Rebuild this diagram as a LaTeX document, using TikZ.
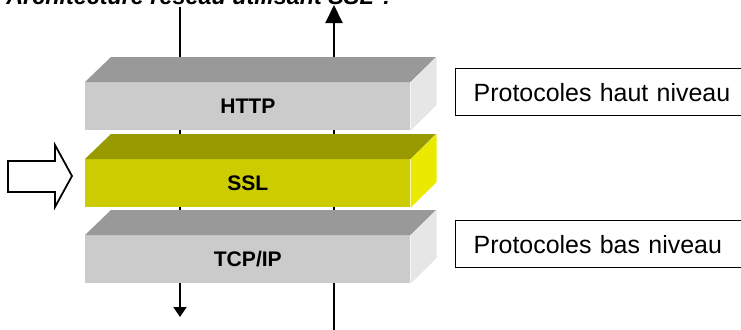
\documentclass[tikz,border=0pt]{standalone}
\usepackage{fontspec}
\setmainfont{Liberation Sans}
\usetikzlibrary{arrows.meta, positioning}
\definecolor{GreyTop}{HTML}{999999}
\definecolor{GreyFront}{HTML}{CBCBCB}
\definecolor{GreySide}{HTML}{E6E6E6}
\definecolor{SslTop}{HTML}{999900}
\definecolor{SslFront}{HTML}{CCCC00}
\definecolor{SslSide}{HTML}{EAEA00}

\begin{document}
\begin{tikzpicture}[
    x=0.02cm, y=-0.02cm,
    front/.style={minimum width=6.5cm, minimum height=0.96cm, inner sep=0pt, anchor=north west, font=\fontsize{12}{14}\selectfont\bfseries},
    protbox/.style={draw=black, line width=0.8pt, minimum height=0.94cm, text width=6.6cm, align=left, inner xsep=0.36cm, anchor=north west, font=\fontsize{14.2}{17}\selectfont},
    wire/.style={line width=1.1pt}
]
\useasboundingbox (0,0) rectangle (741,329);

% title, cut by the top edge
\node[anchor=base west, inner sep=0pt, font=\fontsize{13.3}{16}\selectfont\bfseries\itshape] (title) at (6,4) {Architecture réseau utilisant SSL ?};

% vertical flows (behind the layers)
\coordinate (lt) at (180,7);
\coordinate (lb) at (180,317);
\coordinate (rb) at (334,335);
\coordinate (rt) at (334,5);
\draw[wire, -{Triangle[length=0.2cm, width=0.26cm]}] (lt) -- (lb);
\draw[wire, -{Triangle[length=0.36cm, width=0.34cm]}] (rb) -- (rt);

% HTTP layer
\node[front, fill=GreyFront] (http) at (85,82) {HTTP};
\fill[GreyTop] (http.north west) -- ++(26,-25) -- ++(325,0) -- (http.north east) -- cycle;
\fill[GreySide] (http.north east) -- ++(26,-25) -- ++(0,48) -- (http.south east) -- cycle;

% SSL layer
\node[front, fill=SslFront] (ssl) at (85,159) {SSL};
\fill[SslTop] (ssl.north west) -- ++(26,-25) -- ++(325,0) -- (ssl.north east) -- cycle;
\fill[SslSide] (ssl.north east) -- ++(26,-25) -- ++(0,48) -- (ssl.south east) -- cycle;

% TCP/IP layer
\node[front, fill=GreyFront] (tcp) at (85,235) {TCP/IP};
\fill[GreyTop] (tcp.north west) -- ++(26,-25) -- ++(325,0) -- (tcp.north east) -- cycle;
\fill[GreySide] (tcp.north east) -- ++(26,-25) -- ++(0,48) -- (tcp.south east) -- cycle;

% hollow arrow into SSL
\draw[line width=1pt, fill=white] (8,161) -- (55,161) -- (55,145) -- (72,176) -- (55,207) -- (55,192) -- (8,192) -- cycle;

% side labels
\node[protbox] (haut) at (455,68) {Protocoles haut niveau};
\node[protbox] (bas) at (455,220) {Protocoles bas niveau};
\end{tikzpicture}
\end{document}
